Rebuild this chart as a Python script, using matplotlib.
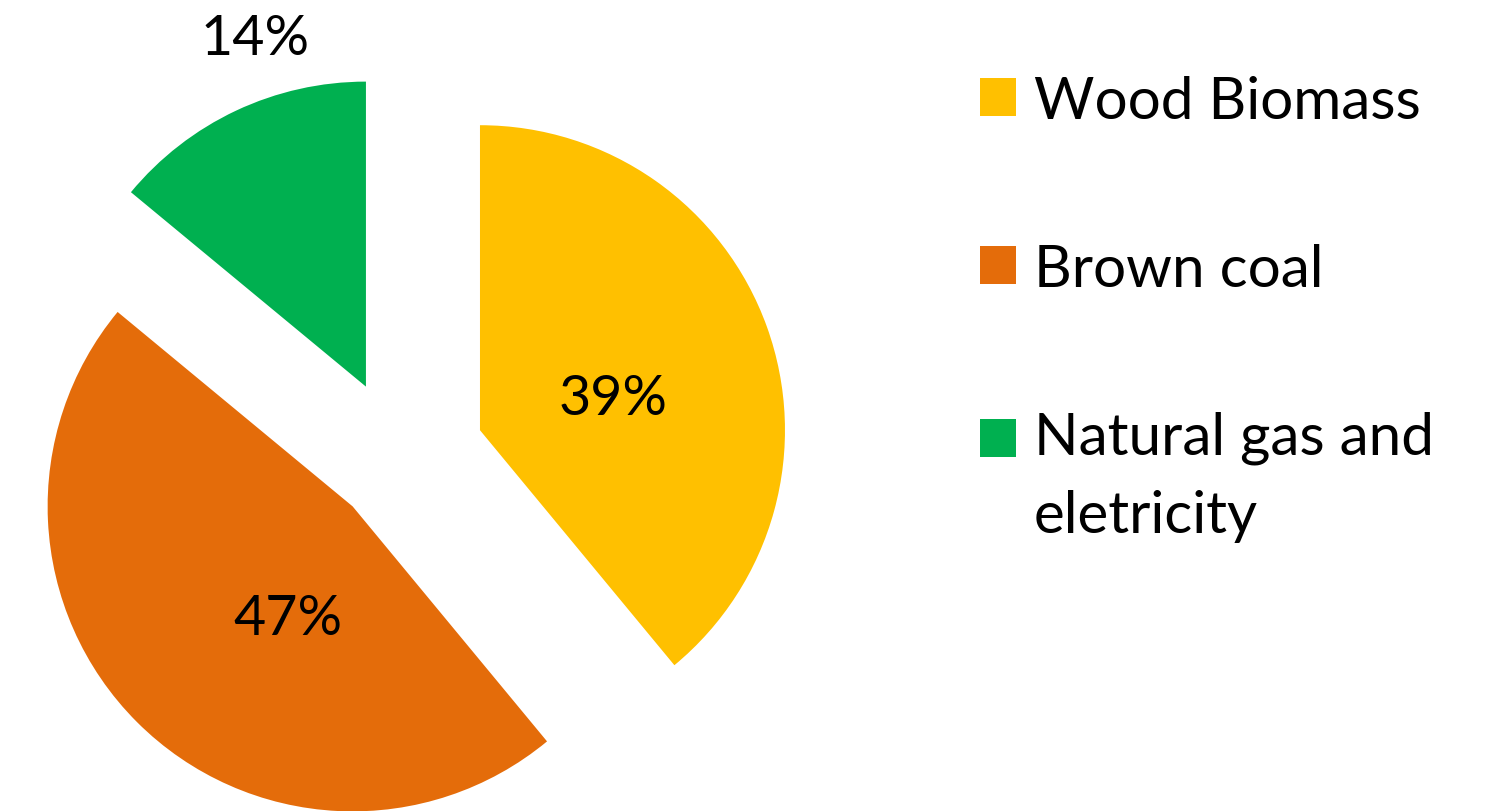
import numpy as np
import matplotlib.pyplot as plt

labels = ['Wood Biomass', 'Brown coal', 'Natural gas and\neletricity']
shares = [39, 47, 14]
colors = ['#FFC000', '#E46C0A', '#00B050']

# how far each slice is pulled out (pixels) and where its % sits
explode = [85, 67, 80]
label_dist = [137, 129, 365]
label_ang = [13.5, -120, 107.7]

plt.rcParams['font.family'] = ['Lato', 'DejaVu Sans']

fig = plt.figure(figsize=(14.92, 8.12), dpi=100)
ax = fig.add_axes([0, 0, 1, 1])

wedges, texts, autotexts = ax.pie(shares, colors=colors, explode=explode,
                                  startangle=90, counterclock=False,
                                  center=(400, 352), radius=305,
                                  autopct='%d%%',
                                  textprops={'fontsize': 40, 'color': 'black'})

for w, t, d, a in zip(wedges, autotexts, label_dist, label_ang):
    cx, cy = w.center
    t.set_position((cx + d * np.cos(np.radians(a)), cy + d * np.sin(np.radians(a))))
    t.set_ha('center')
    t.set_va('center')

ax.set_xlim(0, 1492)
ax.set_ylim(0, 812)
ax.set_aspect('equal')
ax.axis('off')

leg = ax.legend(wedges, labels, loc='upper left', bbox_to_anchor=(0.657, 0.9065),
                bbox_transform=fig.transFigure, frameon=False, fontsize=42,
                handlelength=0.62, handleheight=0.62, handletextpad=0.3,
                labelspacing=1.97, borderpad=0, borderaxespad=0)
for txt in leg.get_texts():
    txt.set_linespacing(1.58)
# put the square of the two-line entry next to its first line
sq = leg.get_patches()[2]
sq.set_y(sq.get_y() + 28.4)

fig.savefig('out.png', dpi=100)
